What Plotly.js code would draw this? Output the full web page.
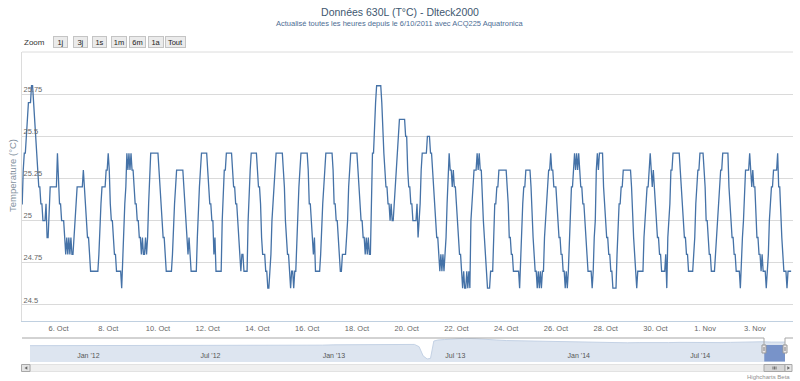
<!DOCTYPE html>
<html><head><meta charset="utf-8">
<script src="https://cdn.plot.ly/plotly-3.0.1.min.js"></script>
<style>html,body{margin:0;padding:0;background:#fff}#chart{width:800px;height:381px}</style>
</head><body><div id="chart"></div>
<script>
// ---- hourly temperatures (°C) ----
const oct04 = [25.1,25.1,25.3,25.4,25.4,25.5,25.6,25.7,25.7,25.7,25.8,25.8]; // from 12:00
const oct05 = [25.7,25.6,25.5,25.4,25.3,25.2,25.2,25.1,25.1,25.0,25.0,25.0,25.1,24.9,24.9,25.1,25.2,25.2,25.2,25.2,25.2,25.2,25.2,25.4];
const oct06 = [25.2,25.1,25.1,25.0,25.0,25.0,24.9,24.8,24.9,24.8,24.9,24.8,24.9,24.8,24.8,24.9,25.0,25.1,25.2,25.2,25.2,25.2,25.2,25.2];
const oct07 = [25.3,25.2,25.1,25.0,24.9,24.9,24.8,24.7,24.7,24.7,24.7,24.7,24.7,24.7,24.7,24.8,25.0,25.1,25.2,25.2,25.2,25.2,25.3,25.3];
const oct08 = [25.4,25.3,25.1,25.0,25.0,24.9,24.8,24.8,24.7,24.7,24.7,24.7,24.7,24.6,24.8,25.0,25.1,25.2,25.4,25.3,25.4,25.3,25.4,25.3];
const oct09 = [25.3,25.2,25.1,25.1,25.0,25.0,24.9,24.9,24.8,24.9,24.8,24.8,24.9,24.8,24.9,25.1,25.3,25.4,25.4,25.4,25.4,25.4,25.4,25.4];
const oct10 = [25.4,25.3,25.2,25.1,25.0,24.9,24.9,24.8,24.7,24.7,24.7,24.7,24.7,24.7,24.8,25.0,25.1,25.2,25.3,25.3,25.3,25.3,25.3,25.3];
const oct11 = [25.3,25.2,25.1,25.0,24.9,24.8,24.9,24.8,24.7,24.7,24.7,24.7,24.7,24.7,24.9,25.1,25.2,25.3,25.4,25.4,25.4,25.4,25.4,25.4];
const oct12 = [25.3,25.2,25.1,25.1,25.0,25.0,24.8,24.9,24.7,24.7,24.7,24.7,24.7,24.7,25.0,25.2,25.3,25.3,25.4,25.4,25.4,25.4,25.4,25.4];
const oct13 = [25.3,25.2,25.2,25.1,25.1,25.0,24.9,24.8,24.7,24.8,24.8,24.7,24.7,24.7,24.7,25.0,25.2,25.3,25.4,25.4,25.4,25.4,25.4,25.4];
const oct14 = [25.3,25.2,25.2,25.1,24.9,24.8,24.8,24.8,24.7,24.7,24.6,24.6,24.7,24.8,25.0,25.1,25.2,25.3,25.4,25.4,25.4,25.4,25.4,25.4];
const oct15 = [25.4,25.3,25.2,25.0,24.9,24.8,24.8,24.7,24.6,24.7,24.7,24.6,24.7,24.7,24.9,25.1,25.2,25.3,25.4,25.4,25.4,25.4,25.4,25.4];
const oct16 = [25.4,25.3,25.1,25.1,25.0,24.9,24.8,24.9,24.7,24.7,24.7,24.7,24.7,24.8,25.0,25.1,25.2,25.3,25.4,25.4,25.4,25.4,25.4,25.4];
const oct17 = [25.4,25.3,25.1,25.1,25.0,25.0,24.9,24.8,24.7,24.7,24.8,24.8,24.8,24.8,24.9,25.0,25.2,25.3,25.4,25.4,25.4,25.4,25.4,25.4];
const oct18 = [25.4,25.3,25.2,25.1,25.0,25.0,24.9,24.9,24.8,24.9,24.8,24.9,24.8,24.8,25.1,25.4,25.4,25.6,25.7,25.8,25.8,25.8,25.8,25.8];
const oct19 = [25.7,25.5,25.4,25.3,25.2,25.2,25.1,25.1,25.0,25.1,25.0,25.0,25.1,25.2,25.3,25.4,25.5,25.6,25.6,25.6,25.6,25.6,25.6,25.5];
const oct20 = [25.5,25.3,25.2,25.2,25.1,25.1,25.0,25.0,25.0,25.0,25.1,24.9,25.0,25.1,25.3,25.4,25.4,25.4,25.4,25.4,25.5,25.5,25.5,25.4];
const oct21 = [25.4,25.3,25.2,25.1,25.0,24.9,24.9,24.8,24.7,24.8,24.7,24.8,24.7,24.8,24.9,25.1,25.3,25.4,25.3,25.3,25.2,25.3,25.2,25.2];
const oct22 = [25.1,25.0,24.9,24.8,24.8,24.7,24.6,24.7,24.6,24.6,24.7,24.6,24.7,24.6,25.0,25.1,25.2,25.3,25.3,25.3,25.4,25.3,25.4,25.3];
const oct23 = [25.3,25.1,25.0,24.9,24.8,24.7,24.6,24.6,24.6,24.7,24.7,24.7,24.9,25.1,25.1,25.2,25.2,25.3,25.3,25.3,25.3,25.3,25.3,25.3];
const oct24 = [25.3,25.2,25.1,24.9,24.9,24.8,24.8,24.7,24.7,24.7,24.7,24.7,24.7,24.6,24.8,24.9,25.1,25.2,25.2,25.3,25.3,25.3,25.3,25.3];
const oct25 = [25.2,25.0,24.9,24.8,24.7,24.7,24.6,24.7,24.6,24.7,24.6,24.7,24.7,24.9,25.0,25.1,25.2,25.3,25.3,25.4,25.3,25.3,25.2,25.2];
const oct26 = [25.2,25.1,25.0,24.9,24.9,24.8,24.8,24.7,24.7,24.6,24.7,24.6,24.7,24.9,25.1,25.2,25.2,25.3,25.4,25.3,25.4,25.3,25.4,25.3];
const oct27 = [25.2,25.2,25.1,25.1,25.0,24.9,24.8,24.7,24.7,24.7,24.7,24.6,24.7,24.9,25.0,25.3,25.4,25.3,25.4,25.4,25.4,25.4,25.2,25.1];
const oct28 = [25.0,24.9,24.9,24.8,24.8,24.7,24.7,24.6,24.6,24.6,24.6,24.8,25.0,25.1,25.1,25.2,25.2,25.3,25.3,25.3,25.3,25.3,25.3,25.3];
const oct29 = [25.3,25.2,25.0,24.9,24.8,24.7,24.6,24.7,24.7,24.7,24.7,24.7,24.7,24.9,25.0,25.1,25.2,25.2,25.3,25.4,25.3,25.2,25.3,25.2];
const oct30 = [25.1,25.0,24.9,24.9,24.8,24.8,24.7,24.7,24.7,24.7,24.8,24.6,24.9,25.0,25.1,25.3,25.3,25.4,25.4,25.4,25.4,25.4,25.4,25.4];
const oct31 = [25.3,25.2,25.1,25.0,24.9,24.9,24.8,24.8,24.7,24.7,24.7,24.7,24.7,24.8,24.9,25.1,25.2,25.3,25.3,25.4,25.4,25.4,25.4,25.3];
const nov01 = [25.2,25.0,25.0,24.9,24.8,24.8,24.7,24.7,24.7,24.7,24.8,24.9,25.0,25.1,25.2,25.3,25.3,25.4,25.4,25.4,25.4,25.4,25.4,25.2];
const nov02 = [25.1,25.0,24.9,24.9,24.8,24.8,24.7,24.7,24.7,24.7,24.6,24.8,24.9,25.0,25.2,25.3,25.3,25.3,25.3,25.4,25.3,25.2,25.3,25.2];
const nov03 = [25.2,25.0,24.9,24.9,24.8,24.8,24.7,24.8,24.7,24.7,24.7,24.6,24.7,24.8,25.0,25.1,25.2,25.2,25.3,25.3,25.3,25.3,25.4,25.2];
const nov04 = [25.2,25.0,24.9,24.8,24.7,24.7,24.7,24.6,24.7,24.7,24.7,24.7]; // 00:00 - 11:00

const dayList = [
  ['2014-10-04',12,oct04],['2014-10-05',0,oct05],['2014-10-06',0,oct06],['2014-10-07',0,oct07],
  ['2014-10-08',0,oct08],['2014-10-09',0,oct09],['2014-10-10',0,oct10],['2014-10-11',0,oct11],
  ['2014-10-12',0,oct12],['2014-10-13',0,oct13],['2014-10-14',0,oct14],['2014-10-15',0,oct15],
  ['2014-10-16',0,oct16],['2014-10-17',0,oct17],['2014-10-18',0,oct18],['2014-10-19',0,oct19],
  ['2014-10-20',0,oct20],['2014-10-21',0,oct21],['2014-10-22',0,oct22],['2014-10-23',0,oct23],
  ['2014-10-24',0,oct24],['2014-10-25',0,oct25],['2014-10-26',0,oct26],['2014-10-27',0,oct27],
  ['2014-10-28',0,oct28],['2014-10-29',0,oct29],['2014-10-30',0,oct30],['2014-10-31',0,oct31],
  ['2014-11-01',0,nov01],['2014-11-02',0,nov02],['2014-11-03',0,nov03],['2014-11-04',0,nov04]
];

// ---- axis ticks ----
const tickDates  = ['2014-10-06','2014-10-08','2014-10-10','2014-10-12','2014-10-14','2014-10-16','2014-10-18','2014-10-20','2014-10-22','2014-10-24','2014-10-26','2014-10-28','2014-10-30','2014-11-01','2014-11-03'];
const tickLabels = ['6. Oct','8. Oct','10. Oct','12. Oct','14. Oct','16. Oct','18. Oct','20. Oct','22. Oct','24. Oct','26. Oct','28. Oct','30. Oct','1. Nov','3. Nov'];
const yTicks      = [24.5, 24.75, 25, 25.25, 25.5, 25.75];
const yTickLabels = ['24.5','24.75','25','25.25','25.5','25.75'];

// ---- navigator (whole history) ----
const navDates = ['2011-10-06','2011-10-15','2011-11-01','2011-11-15','2011-12-01','2011-12-15',
 '2012-01-01','2012-01-15','2012-02-01','2012-02-15','2012-03-01','2012-03-15','2012-04-01','2012-04-15',
 '2012-05-01','2012-05-15','2012-06-01','2012-06-15','2012-07-01','2012-07-15','2012-08-01','2012-08-15',
 '2012-09-01','2012-09-15','2012-10-01','2012-10-15','2012-11-01','2012-11-15','2012-12-01','2012-12-15',
 '2013-01-01','2013-01-15','2013-02-01','2013-02-15','2013-03-01','2013-03-15','2013-04-01','2013-04-15',
 '2013-05-01','2013-05-08','2013-05-14','2013-05-20','2013-05-25','2013-05-30','2013-06-05','2013-06-15',
 '2013-07-01','2013-07-15','2013-08-01','2013-08-15','2013-09-01','2013-09-15','2013-10-01','2013-10-15',
 '2013-11-01','2013-11-15','2013-12-01','2013-12-15','2014-01-01','2014-01-15','2014-02-01','2014-02-15',
 '2014-03-01','2014-03-15','2014-04-01','2014-04-15','2014-05-01','2014-05-15','2014-06-01','2014-06-15',
 '2014-07-01','2014-07-15','2014-08-01','2014-08-15','2014-09-01','2014-09-15','2014-10-01','2014-10-15','2014-11-04 11:00'];
const navTemps = [25.0,25.0,24.98,25.0,24.98,25.0,
 25.0,24.98,25.0,24.98,25.0,25.0,24.98,25.0,
 25.0,25.02,25.0,25.02,25.02,25.0,25.02,25.0,
 25.0,24.98,25.0,25.0,24.98,25.0,25.02,25.05,
 25.08,25.08,25.1,25.1,25.12,25.12,25.12,25.12,
 25.12,24.9,24.0,23.7,23.75,25.45,25.55,25.6,
 25.68,25.72,25.68,25.6,25.55,25.5,25.48,25.45,
 25.42,25.38,25.35,25.33,25.32,25.3,25.32,25.3,
 25.3,25.28,25.3,25.28,25.28,25.3,25.32,25.3,
 25.3,25.32,25.3,25.32,25.35,25.35,25.38,25.35,25.35];
const navTickDates  = ['2012-01-01','2012-07-01','2013-01-01','2013-07-01','2014-01-01','2014-07-01'];
const navTickLabels = ["Jan '12","Jul '12","Jan '13","Jul '13","Jan '14","Jul '14"];

const buttonLabels = ['1j','3j','1s','1m','6m','1a','Tout'];

const viewStart = '2014-10-04 12:48';
const viewEnd   = '2014-11-04 12:48';
const navStart  = '2011-10-06 00:00';
const navEnd    = '2014-11-04 11:00';

// ---- build series ----
const times = [], temps = [];
dayList.forEach(([d, h0, vals]) => {
  vals.forEach((v, i) => {
    const h = h0 + i;
    times.push(d + ' ' + String(h).padStart(2, '0') + ':00');
    temps.push(v);
  });
});

// ---- geometry helpers (pixels -> paper) ----
const FONT = '"Liberation Sans", Arial, Helvetica, sans-serif';
const W = 800, H = 381, ML = 22, MR = 7, MT = 52, MB = 19;
const PW = W - ML - MR, PH = H - MT - MB;
const px = x => (x - ML) / PW;
const py = y => (H - MB - y) / PH;

const shapes = [];
const rectPx = (x0, y0, x1, y1, fill, line, lw) => shapes.push({type:'rect', xref:'paper', yref:'paper',
  x0:px(x0), x1:px(x1), y0:py(y1), y1:py(y0), fillcolor:fill, line:{color:line, width:lw===undefined?1:lw}, layer:'above'});
const linePx = (x0, y0, x1, y1, color, lw) => shapes.push({type:'line', xref:'paper', yref:'paper',
  x0:px(x0), x1:px(x1), y0:py(y0), y1:py(y1), line:{color:color, width:lw||1}, layer:'above'});

// top border of plot
shapes.push({type:'line', xref:'paper', yref:'paper', x0:0, x1:1, y0:1, y1:1, line:{color:'#dcdcdc', width:1}, layer:'below'});
// navigator mask (selected range)
shapes.push({type:'rect', xref:'x2', yref:'paper', x0:viewStart, x1:navEnd, y0:py(361.5), y1:py(345),
  fillcolor:'rgba(102,133,194,0.85)', line:{width:0}, layer:'above'});
// navigator outline
linePx(22, 338, 764, 338, '#a6a6a6');
linePx(764, 338, 764, 345, '#a6a6a6');
linePx(785, 345, 785, 338, '#a6a6a6');
linePx(785, 338, 793, 338, '#a6a6a6');
// handles
rectPx(762, 345, 766, 353, '#ebe7e8', '#999999');
rectPx(783, 345, 787, 353, '#ebe7e8', '#999999');
linePx(764, 347, 764, 351, '#666666', 0.8);
linePx(785, 347, 785, 351, '#666666', 0.8);
// scrollbar
rectPx(30, 364.5, 785, 371.5, '#f0f0f0', '#e2e2e2');
rectPx(764, 364.5, 785, 371.5, '#d6d6d6', '#a8a8a8');
linePx(773, 366.5, 773, 369.5, '#555555', 0.8);
linePx(774.5, 366.5, 774.5, 369.5, '#555555', 0.8);
linePx(776, 366.5, 776, 369.5, '#555555', 0.8);
rectPx(21.5, 364.5, 30, 371.5, '#e4e4e4', '#a8a8a8');
rectPx(785, 364.5, 792, 371.5, '#e4e4e4', '#a8a8a8');
shapes.push({type:'path', xref:'paper', yref:'paper', layer:'above',
  path:`M ${px(27.3)},${py(366.3)} L ${px(27.3)},${py(369.7)} L ${px(24.5)},${py(368)} Z`, fillcolor:'#666', line:{width:0}});
shapes.push({type:'path', xref:'paper', yref:'paper', layer:'above',
  path:`M ${px(787.3)},${py(366.3)} L ${px(787.3)},${py(369.7)} L ${px(790)},${py(368)} Z`, fillcolor:'#666', line:{width:0}});

// ---- annotations ----
const annotations = [];
annotations.push({text:'Actualisé toutes les heures depuis le 6/10/2011 avec ACQ225 Aquatronica',
  xref:'paper', yref:'paper', x:px(400), y:py(23.3), xanchor:'center', yanchor:'middle', showarrow:false,
  font:{family:FONT, size:7.5, color:'#4d6d94'}});
annotations.push({text:'Temperature (°C)', xref:'paper', yref:'paper', x:px(12), y:py(176), textangle:-90,
  xanchor:'center', yanchor:'middle', showarrow:false, font:{family:FONT, size:9.5, color:'#8492a0'}});
annotations.push({text:'Zoom', xref:'paper', yref:'paper', x:px(22), y:py(42), xanchor:'left', yanchor:'middle',
  showarrow:false, font:{family:FONT, size:8, color:'#333'}});
const btnCenters = [60, 80, 99.5, 119, 137, 156, 175];
const btnWidths  = [13, 13, 13, 14, 15, 14, 19];
buttonLabels.forEach((b, i) => annotations.push({text:b, xref:'paper', yref:'paper', x:px(btnCenters[i]), y:py(42),
  xanchor:'center', yanchor:'middle', showarrow:false, width:btnWidths[i], height:10, borderpad:0,
  bgcolor:'#ebebeb', bordercolor:'#c4c4c4', borderwidth:1, font:{family:FONT, size:7.5, color:'#222'}}));
annotations.push({text:'Highcharts Beta', xref:'paper', yref:'paper', x:px(792), y:py(377), xanchor:'right', yanchor:'middle',
  showarrow:false, font:{family:FONT, size:6, color:'#909090'}});

const traces = [
  {x:times, y:temps, type:'scatter', mode:'lines', xaxis:'x', yaxis:'y', name:'Temperature',
   line:{color:'#4572A7', width:1.3}, hoverinfo:'skip'},
  {x:navDates, y:navTemps, type:'scatter', mode:'lines', xaxis:'x2', yaxis:'y2', name:'Navigator',
   fill:'tozeroy', fillcolor:'rgb(221,229,240)', line:{color:'rgb(196,210,229)', width:1}, hoverinfo:'skip'}
];

const layout = {
  width:W, height:H, margin:{l:ML, r:MR, t:MT, b:MB, pad:0},
  paper_bgcolor:'#fff', plot_bgcolor:'#fff', showlegend:false,
  font:{family:FONT, color:'#666'},
  title:{text:'Données 630L (T°C) - Dlteck2000', xref:'container', x:0.5, xanchor:'center',
         yref:'container', y:1-12/H, yanchor:'middle', font:{family:FONT, size:10.5, color:'#3E576F'}},
  xaxis:{type:'date', range:[viewStart, viewEnd], domain:[0,1], anchor:'y',
         tickvals:tickDates, ticktext:tickLabels, tickfont:{family:FONT, size:7.5, color:'#666'},
         ticks:'', showgrid:false, showline:true, linecolor:'#C0D0E0', linewidth:1, zeroline:false, fixedrange:true},
  yaxis:{domain:[py(321), 1], range:[24.405, 26.0], anchor:'x',
         tickvals:yTicks, ticktext:yTickLabels, ticklabelposition:'inside', ticklabelshift:-5, ticklabelstandoff:0,
         tickfont:{family:FONT, size:7.5, color:'#666'}, ticks:'',
         showgrid:true, gridcolor:'#dadada', gridwidth:1, showline:true, linecolor:'#dcdcdc', zeroline:false, fixedrange:true},
  xaxis2:{type:'date', range:[navStart, navEnd], domain:[px(30), px(785)], anchor:'y2',
          tickvals:navTickDates, ticktext:navTickLabels, ticklabelposition:'inside', ticks:'',
          tickfont:{family:FONT, size:7, color:'#555'}, showgrid:false, showline:false, zeroline:false, fixedrange:true},
  yaxis2:{domain:[0, py(338)], range:[23.4, 25.75], anchor:'x2', visible:false, fixedrange:true},
  shapes:shapes, annotations:annotations
};

Plotly.newPlot('chart', traces, layout, {displayModeBar:false, staticPlot:true});
</script></body></html>
